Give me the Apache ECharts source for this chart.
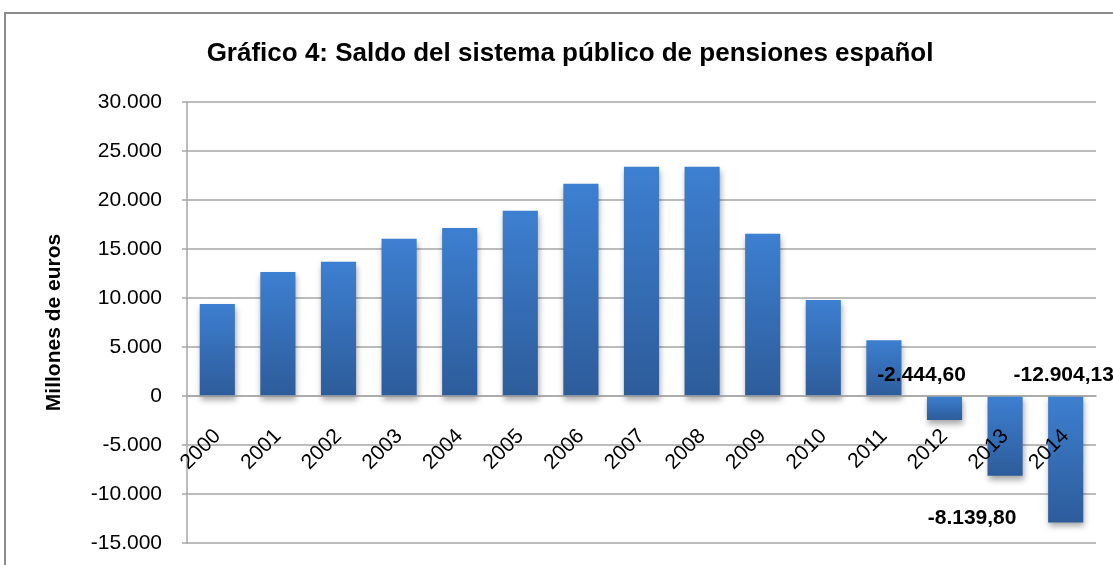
<!DOCTYPE html>
<html><head><meta charset="utf-8">
<script src="https://cdn.jsdelivr.net/npm/echarts@6/dist/echarts.min.js"></script>
<style>html,body{margin:0;padding:0;background:#fff;}#c{width:1113px;height:565px;}</style>
</head><body><div id="c"></div>
<script>
const categories = ['2000','2001','2002','2003','2004','2005','2006','2007','2008','2009','2010','2011','2012','2013','2014'];
const saldo = [9400, 12650, 13700, 16050, 17150, 18900, 21650, 23400, 23400, 16550, 9800, 5700, -2444.60, -8139.80, -12904.13];
const labeledYears = ['2012','2013','2014'];
const yTicks = {min: -15000, max: 30000, interval: 5000};
const titleText = 'Gráfico 4: Saldo del sistema público de pensiones español';
const yName = 'Millones de euros';

const FONT = "'Liberation Sans', Arial, sans-serif";
function fmtES(v, dec) {
  const neg = v < 0; v = Math.abs(v);
  let s = v.toFixed(dec);
  let [i, d] = s.split('.');
  i = i.replace(/\B(?=(\d{3})+(?!\d))/g, '.');
  return (neg ? '-' : '') + i + (d ? ',' + d : '');
}
const labelCfg = {
  '2012': {position: 'top', offset: [-23, -5]},
  '2013': {position: 'bottom', offset: [-33, 27]},
  '2014': {position: 'top', offset: [-2, -5]}
};
const grad = new echarts.graphic.LinearGradient(0,0,0,1,[{offset:0,color:'#3d7fd1'},{offset:1,color:'#2d5c9a'}]);
const data = saldo.map((v, i) => {
  const c = categories[i];
  const item = {value: v};
  if (labeledYears.includes(c)) {
    item.label = Object.assign({show: true, formatter: p => fmtES(p.value, 2), fontFamily: FONT, fontWeight: 'bold', fontSize: 21, color: '#000'}, labelCfg[c]);
  }
  return item;
});
const chart = echarts.init(document.getElementById('c'));
const gridTop = 102, gridBottom = 22, H = 565;
const plotH = H - gridTop - gridBottom;
const zeroFromBottom = plotH * (0 - yTicks.min) / (yTicks.max - yTicks.min);
chart.setOption({
  animation: false,
  backgroundColor: '#fff',
  title: {text: titleText, left: 565, top: 36, textAlign: 'center',
    textStyle: {fontFamily: FONT, fontWeight: 'bold', fontSize: 26, color: '#000'}},
  graphic: [{type: 'rect', shape: {x: 5, y: 13, width: 1130, height: 600}, style: {fill: 'none', stroke: '#8c8c8c', lineWidth: 2}, z: 100}],
  grid: {left: 187, right: 17, top: gridTop, bottom: gridBottom, containLabel: false, outerBoundsMode: 'none'},
  xAxis: {type: 'category', data: categories, offset: -zeroFromBottom, z: 10,
    axisLine: {show: true, onZero: false, lineStyle: {color: '#a6a6a6', width: 1.5}},
    axisTick: {show: false},
    axisLabel: {rotate: 45, margin: 37, fontFamily: FONT, fontSize: 21, color: '#000', interval: 0}},
  yAxis: {type: 'value', min: yTicks.min, max: yTicks.max, interval: yTicks.interval,
    name: yName, nameLocation: 'middle', nameGap: 122, nameRotate: 90,
    nameTextStyle: {fontFamily: FONT, fontWeight: 'bold', fontSize: 21, color: '#000'},
    axisLine: {show: true, lineStyle: {color: '#a6a6a6', width: 1.5}},
    axisTick: {show: true, length: 5, lineStyle: {color: '#a6a6a6', width: 1.5}},
    axisLabel: {margin: 25, fontFamily: FONT, fontSize: 21, color: '#000', formatter: v => fmtES(v, 0)},
    splitLine: {show: true, lineStyle: {color: '#a6a6a6', width: 1.5}}},
  series: [{type: 'bar', data: data, barWidth: '58%', z: 2,
    itemStyle: {color: grad, shadowBlur: 6, shadowOffsetY: 4, shadowOffsetX: 1, shadowColor: 'rgba(0,0,0,0.35)'}}]
});
</script></body></html>
